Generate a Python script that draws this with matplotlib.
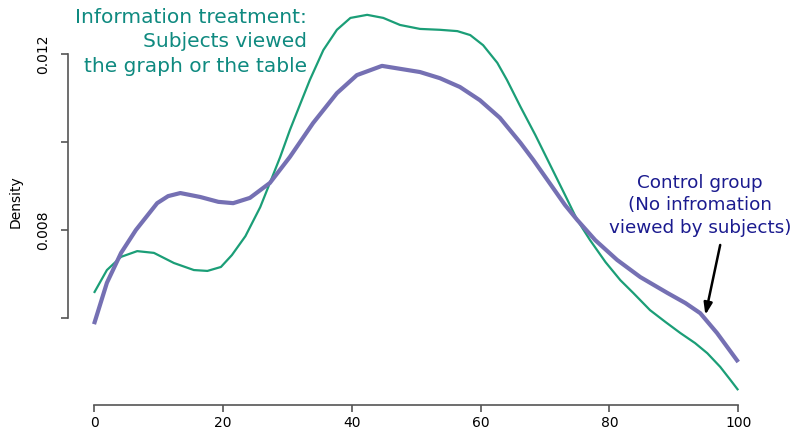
import matplotlib
matplotlib.use("Agg")
import matplotlib.pyplot as plt

# Information treatment (green) density curve
green_x = [0, 2.0, 4.2, 6.7, 9.3, 12.4, 15.5, 17.6, 19.7, 21.4, 23.5, 25.8, 27.3, 28.9,
           30.4, 32.0, 33.5, 35.6, 37.7, 39.8, 42.4, 44.9, 47.5, 50.6, 53.7, 56.4, 58.4,
           60.4, 62.6, 64.1, 66.2, 68.5, 70.8, 73.1, 75.0, 77.0, 79.4, 81.7, 83.7, 86.3,
           88.7, 91.0, 93.3, 95.2, 97.2, 98.8, 100]
green_y = [0.00657, 0.00709, 0.00739, 0.00752, 0.00748, 0.00725, 0.00709, 0.00707, 0.00716,
           0.00743, 0.00786, 0.00852, 0.00907, 0.00966, 0.01027, 0.01086, 0.01141, 0.01209,
           0.01255, 0.01282, 0.01289, 0.01282, 0.01266, 0.01257, 0.01255, 0.01252, 0.01243,
           0.01220, 0.01180, 0.01141, 0.01080, 0.01016, 0.00948, 0.00880, 0.00823, 0.00777,
           0.00727, 0.00686, 0.00657, 0.00618, 0.00591, 0.00566, 0.00543, 0.00520, 0.00489,
           0.00459, 0.00436]

# Control group (purple) density curve
purple_x = [0, 2.0, 4.2, 6.5, 9.8, 11.5, 13.4, 16.5, 19.3, 21.6, 24.2, 27.3, 30.4, 34.0,
            37.7, 40.8, 44.7, 50.6, 53.7, 56.8, 59.9, 63.0, 66.2, 68.2, 70.8, 73.1, 75.0,
            77.8, 81.2, 84.8, 89.0, 91.8, 94.1, 96.7, 100]
purple_y = [0.00586, 0.00680, 0.00748, 0.00800, 0.00861, 0.00877, 0.00884, 0.00875, 0.00864,
            0.00861, 0.00873, 0.00907, 0.00966, 0.01043, 0.01111, 0.01152, 0.01173, 0.01159,
            0.01145, 0.01125, 0.01095, 0.01055, 0.00998, 0.00959, 0.00905, 0.00857, 0.00823,
            0.00777, 0.00732, 0.00693, 0.00657, 0.00634, 0.00611, 0.00566, 0.00500]

x_ticks = [0, 20, 40, 60, 80, 100]
y_ticks = [0.006, 0.008, 0.010, 0.012]
y_tick_labels = ["", "0.008", "", "0.012"]

fig = plt.figure(figsize=(7.96, 4.34), dpi=100)
ax = fig.add_axes([68 / 796, 29 / 434, 696 / 796, 395 / 434])

ax.plot(green_x, green_y, color="#1b9e77", lw=1.6, solid_capstyle="butt",
        solid_joinstyle="round")
ax.plot(purple_x, purple_y, color="#7570b3", lw=3.0, solid_capstyle="butt",
        solid_joinstyle="round")

ax.set_xlim(-4.04, 104.0)
ax.set_ylim(0.004023, 0.013)

for s in ["top", "right"]:
    ax.spines[s].set_visible(False)
for s in ["left", "bottom"]:
    ax.spines[s].set_color("#555555")
    ax.spines[s].set_linewidth(1.2)
ax.spines["left"].set_bounds(0.006, 0.012)
ax.spines["bottom"].set_bounds(0, 100)

ax.set_xticks(x_ticks)
ax.set_xticklabels([str(v) for v in x_ticks], fontsize=10)
ax.set_yticks(y_ticks)
ax.set_yticklabels(y_tick_labels, fontsize=10, rotation=90, va="center")
ax.tick_params(axis="x", length=5, width=1.2, color="#555555", pad=3)
ax.tick_params(axis="y", length=5, width=1.2, color="#555555", pad=8)

fig.text(16 / 796, 1 - 202 / 434, "Density", rotation=90, fontsize=10,
         ha="center", va="center")

ax.text(33.1, 0.01305, "Information treatment:\nSubjects viewed\nthe graph or the table",
        ha="right", va="top", fontsize=14.5, color="#0f8a80", linespacing=1.38)

ax.text(94.1, 0.00928, "Control group\n(No infromation\nviewed by subjects)",
        ha="center", va="top", fontsize=13.2, color="#1b1b8f", linespacing=1.33)

ax.annotate("", xy=(94.9, 0.00607), xytext=(97.2, 0.00766),
            arrowprops=dict(arrowstyle="-|>,head_length=0.7,head_width=0.25",
                            color="black", lw=1.8, shrinkA=0, shrinkB=0))

fig.savefig("out.png", dpi=100)
